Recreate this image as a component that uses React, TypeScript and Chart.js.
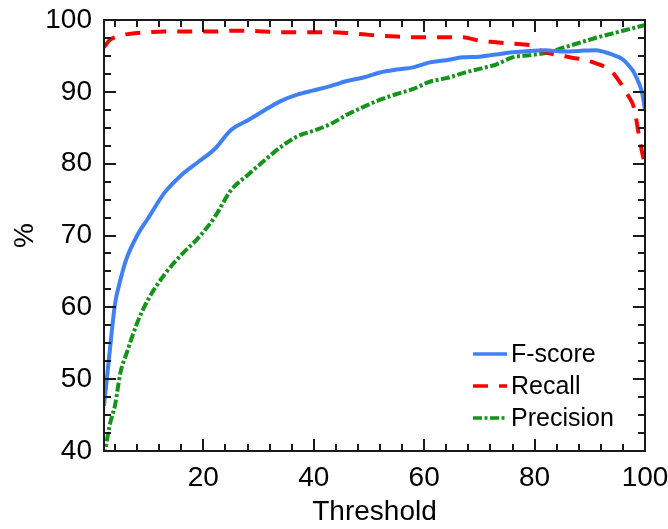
import React, { useEffect, useRef } from "react";
import { Chart, registerables } from "chart.js";

Chart.register(...registerables);

const thresholds = [2, 3, 4, 5, 6, 8, 10, 13, 16, 19, 22, 25, 28, 31, 34, 37, 40, 43, 46, 49, 52, 55, 58, 61, 64, 67, 70, 73, 76, 79, 82, 85, 88, 91, 94, 96, 97, 98, 99, 99.5, 100];

const fScore = [46.3, 53.6, 60.5, 63.9, 66.6, 70.0, 72.4, 76.0, 78.4, 80.2, 82.0, 84.7, 86.0, 87.4, 88.7, 89.6, 90.2, 90.8, 91.5, 92.0, 92.7, 93.1, 93.4, 94.1, 94.4, 94.8, 94.9, 95.2, 95.5, 95.7, 95.8, 95.6, 95.7, 95.8, 95.2, 94.5, 93.7, 92.7, 91.0, 89.8, 87.5];

const recall = [96.2, 97.2, 97.6, 97.8, 98.0, 98.2, 98.3, 98.4, 98.4, 98.4, 98.4, 98.5, 98.5, 98.4, 98.3, 98.3, 98.3, 98.3, 98.2, 98.0, 97.8, 97.7, 97.6, 97.6, 97.6, 97.6, 97.1, 96.9, 96.7, 96.5, 95.5, 95.0, 94.6, 94.0, 92.8, 90.7, 89.4, 87.8, 83.5, 81.5, 79.8];

const precision = [39.0, 43.5, 46.4, 51.0, 53.4, 57.8, 61.1, 64.6, 67.3, 69.6, 72.5, 76.3, 78.4, 80.4, 82.3, 83.8, 84.6, 85.5, 86.8, 87.9, 88.9, 89.7, 90.4, 91.4, 91.9, 92.6, 93.2, 93.8, 94.8, 95.1, 95.4, 96.1, 96.8, 97.5, 98.1, 98.5, 98.7, 98.9, 99.1, 99.2, 99.3];

const seriesLabels = ["F-score", "Recall", "Precision"];
const xMajorTicks = [20, 40, 60, 80, 100];
const xMinorTicks = [4, 8, 12, 16, 24, 28, 32, 36, 44, 48, 52, 56, 64, 68, 72, 76, 84, 88, 92, 96];
const yMajorTicks = [40, 50, 60, 70, 80, 90, 100];
const yMinorTicks = [42.5, 45, 47.5, 52.5, 55, 57.5, 62.5, 65, 67.5, 72.5, 75, 77.5, 82.5, 85, 87.5, 92.5, 95, 97.5];

const FONT = "'Liberation Sans', Arial, Helvetica, sans-serif";

const zeroPadding = (s: any) => {
  s.paddingLeft = 0;
  s.paddingRight = 0;
  s.paddingTop = 0;
  s.paddingBottom = 0;
};

const framePlugin = {
  id: "frameTicks",
  afterDatasetsDraw(chart: any) {
    const { ctx, chartArea } = chart;
    const { left, right, top, bottom } = chartArea;
    const xs = chart.scales.x;
    const ys = chart.scales.y;
    ctx.save();
    ctx.strokeStyle = "#1a1a1a";
    ctx.lineWidth = 2;
    ctx.strokeRect(left, top, right - left, bottom - top);
    const drawX = (vals: number[], len: number) => {
      vals.forEach((v) => {
        const px = Math.round(xs.getPixelForValue(v));
        ctx.beginPath();
        ctx.moveTo(px, bottom);
        ctx.lineTo(px, bottom - len);
        ctx.moveTo(px, top);
        ctx.lineTo(px, top + len);
        ctx.stroke();
      });
    };
    const drawY = (vals: number[], len: number) => {
      vals.forEach((v) => {
        const py = Math.round(ys.getPixelForValue(v));
        ctx.beginPath();
        ctx.moveTo(left, py);
        ctx.lineTo(left + len, py);
        ctx.moveTo(right, py);
        ctx.lineTo(right - len, py);
        ctx.stroke();
      });
    };
    drawX(xMajorTicks, 12);
    drawX(xMinorTicks, 7);
    drawY(yMajorTicks, 12);
    drawY(yMinorTicks, 7);
    ctx.restore();
  },
  afterDraw(chart: any) {
    const { ctx, chartArea } = chart;
    ctx.save();
    const rowOffsets = [97, 65, 33];
    chart.data.datasets.forEach((ds: any, i: number) => {
      const y = chartArea.bottom - rowOffsets[i];
      const x0 = chartArea.right - 172;
      const x1 = chartArea.right - 138;
      ctx.strokeStyle = ds.borderColor;
      ctx.lineWidth = 3.5;
      ctx.setLineDash(ds.borderDash || []);
      ctx.beginPath();
      ctx.moveTo(x0, y);
      ctx.lineTo(x1, y);
      ctx.stroke();
      ctx.setLineDash([]);
      ctx.fillStyle = "#000";
      ctx.font = `25px ${FONT}`;
      ctx.textAlign = "left";
      ctx.textBaseline = "middle";
      ctx.fillText(ds.label, chartArea.right - 134, y + 1);
    });
    ctx.restore();
  },
};

export default function App() {
  const canvasRef = useRef<HTMLCanvasElement | null>(null);

  useEffect(() => {
    if (!canvasRef.current) return;
    const mk = (vals: number[]) => thresholds.map((x, i) => ({ x, y: vals[i] }));
    const chart = new Chart(canvasRef.current, {
      type: "line",
      data: {
        datasets: [
          {
            label: seriesLabels[0],
            data: mk(fScore),
            borderColor: "#3f80f5",
            borderWidth: 4,
            pointRadius: 0,
            cubicInterpolationMode: "monotone",
            fill: false,
          },
          {
            label: seriesLabels[1],
            data: mk(recall),
            borderColor: "#ff0000",
            borderWidth: 4,
            borderDash: [15, 11],
            pointRadius: 0,
            cubicInterpolationMode: "monotone",
            fill: false,
          },
          {
            label: seriesLabels[2],
            data: mk(precision),
            borderColor: "#14941a",
            borderWidth: 4,
            borderDash: [9, 2.5, 3, 2.5],
            pointRadius: 0,
            cubicInterpolationMode: "monotone",
            fill: false,
          },
        ],
      },
      options: {
        animation: false,
        responsive: true,
        maintainAspectRatio: false,
        layout: { padding: { left: 0, right: 23, top: 20, bottom: 0 } },
        plugins: {
          legend: { display: false },
          tooltip: { enabled: false },
        },
        scales: {
          x: {
            type: "linear",
            min: 2,
            max: 100,
            grid: { display: false, drawTicks: false },
            border: { display: false },
            afterBuildTicks: (s: any) => {
              s.ticks = xMajorTicks.map((v) => ({ value: v }));
            },
            afterFit: (s: any) => {
              s.height = 78;
              zeroPadding(s);
            },
            ticks: {
              color: "#000",
              font: { family: FONT, size: 28 },
              padding: 10,
              maxRotation: 0,
              autoSkip: false,
            },
            title: {
              display: true,
              text: "Threshold",
              color: "#000",
              font: { family: FONT, size: 28 },
              padding: { top: 0, bottom: 0 },
            },
          },
          y: {
            type: "linear",
            min: 40,
            max: 100,
            grid: { display: false, drawTicks: false },
            border: { display: false },
            afterBuildTicks: (s: any) => {
              s.ticks = yMajorTicks.map((v) => ({ value: v }));
            },
            afterFit: (s: any) => {
              s.width = 104;
              zeroPadding(s);
            },
            ticks: {
              color: "#000",
              font: { family: FONT, size: 28 },
              padding: 12,
              autoSkip: false,
            },
            title: {
              display: true,
              text: "%",
              color: "#000",
              font: { family: FONT, size: 28 },
              padding: { top: 8, bottom: 0 },
            },
          },
        },
      },
      plugins: [framePlugin],
    });
    return () => chart.destroy();
  }, []);

  return (
    <div style={{ position: "fixed", left: 0, top: 0, width: 668, height: 529, background: "#fff" }}>
      <canvas ref={canvasRef} />
    </div>
  );
}
